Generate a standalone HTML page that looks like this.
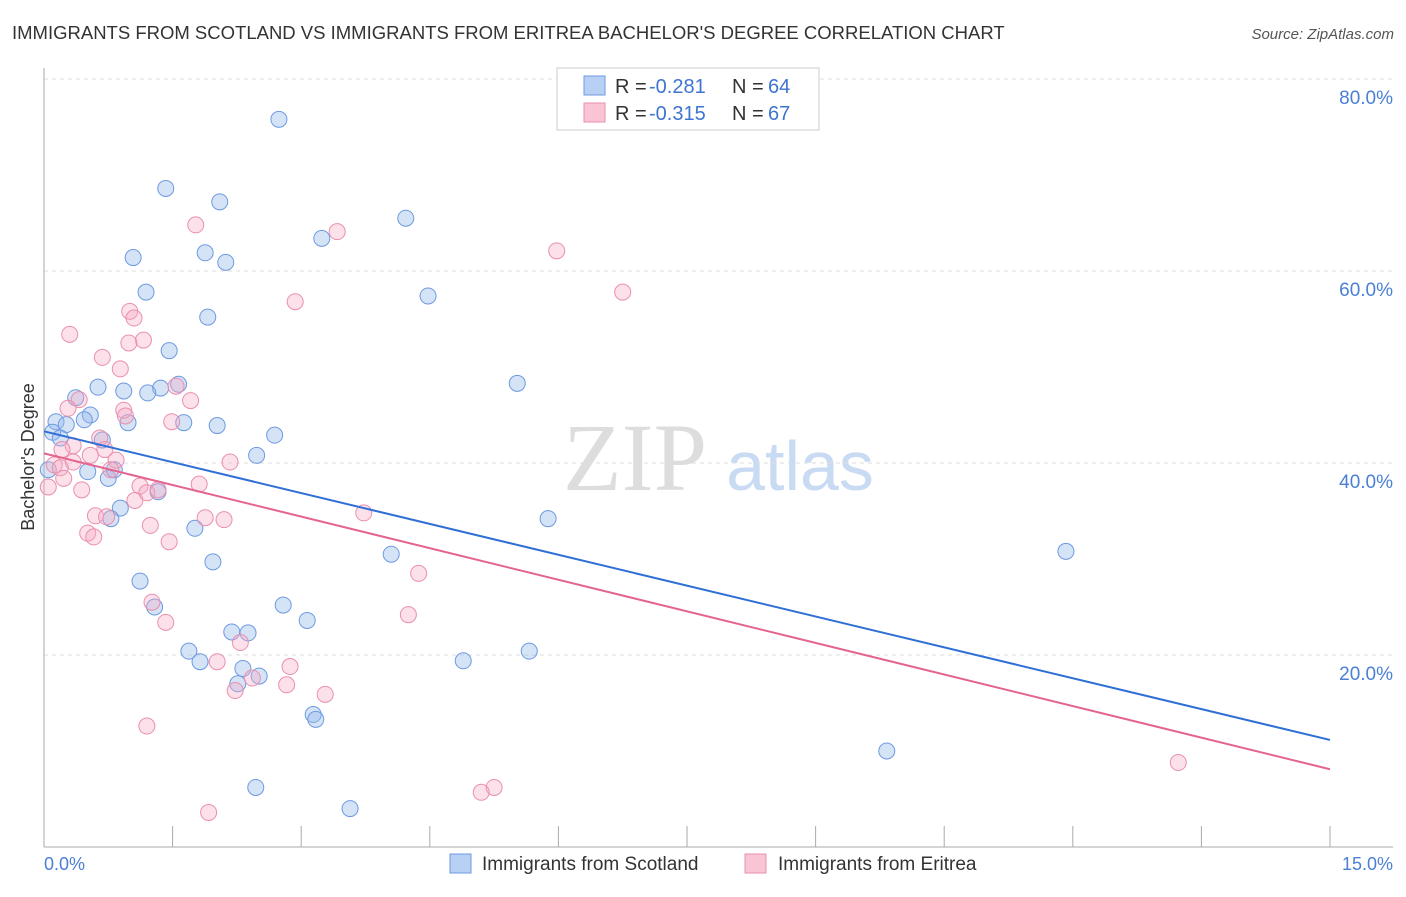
<!DOCTYPE html>
<html><head><meta charset="utf-8"><style>
body{margin:0;background:#fff;font-family:"Liberation Sans",sans-serif;}
</style></head><body>
<svg id="c" width="1406" height="892" xmlns="http://www.w3.org/2000/svg">
<text x="12" y="39" font-size="18.5" fill="#333">IMMIGRANTS FROM SCOTLAND VS IMMIGRANTS FROM ERITREA BACHELOR'S DEGREE CORRELATION CHART</text>
<text x="1394" y="39" font-size="15" fill="#555" font-style="italic" text-anchor="end">Source: ZipAtlas.com</text>
<g>
<text x="635" y="490" font-size="96" fill="#ddd" font-family="Liberation Serif,serif" text-anchor="middle">ZIP</text>
<text x="800" y="490" font-size="70" fill="#c9daf3" text-anchor="middle">atlas</text></g>
<g id="grid"></g><g id="axes"></g><g id="pts"></g><g id="lines"></g>
<text transform="translate(34,457) rotate(-90)" font-size="18" fill="#333" text-anchor="middle">Bachelor's Degree</text>
<text x="44" y="870" font-size="18" fill="#4a7fd4">0.0%</text>
<text x="1393" y="870" font-size="18" fill="#4a7fd4" text-anchor="end">15.0%</text>
<g>
<rect x="557" y="68" width="262" height="62" fill="#fff" stroke="#ccc"/>
<rect x="584" y="76" width="21" height="19" fill="#b8d0f4" stroke="#6d9ae0"/>
<rect x="584" y="103" width="21" height="19" fill="#f9c4d4" stroke="#ea8fad"/>
<text x="615" y="93" font-size="20" fill="#333">R =</text>
<text x="649" y="93" font-size="20" fill="#3d75d0">-0.281</text>
<text x="732" y="93" font-size="20" fill="#333">N =</text>
<text x="768" y="93" font-size="20" fill="#3d75d0">64</text>
<text x="615" y="120" font-size="20" fill="#333">R =</text>
<text x="649" y="120" font-size="20" fill="#3d75d0">-0.315</text>
<text x="732" y="120" font-size="20" fill="#333">N =</text>
<text x="768" y="120" font-size="20" fill="#3d75d0">67</text></g>
<g>
<rect x="450" y="854" width="21" height="19" fill="#b8d0f4" stroke="#6d9ae0"/>
<text x="482" y="870" font-size="19" fill="#333">Immigrants from Scotland</text>
<rect x="745" y="854" width="21" height="19" fill="#f9c4d4" stroke="#ea8fad"/>
<text x="778" y="870" font-size="19" fill="#333">Immigrants from Eritrea</text></g>
</svg>
<script>
const yTicks=[20,40,60,80];
const yTickLabels=["20.0%","40.0%","60.0%","80.0%"];
const blueX=[2.74,1.42,2.05,4.22,3.24,1.04,1.88,2.12,1.19,4.48,1.91,1.46,5.52,0.63,0.93,1.36,1.57,1.21,0.37,0.54,0.47,0.14,0.26,0.98,1.63,2.02,2.69,0.10,0.19,0.68,2.48,0.51,0.75,0.82,1.33,0.89,0.78,5.88,1.76,4.05,11.92,1.97,1.12,1.29,2.79,3.07,2.19,2.38,1.69,4.89,5.66,1.82,2.32,2.51,2.26,3.14,3.17,9.83,2.47,3.57,0.05];
const blueY=[75.8,68.6,67.2,65.5,63.4,61.4,61.9,60.9,57.8,57.4,55.2,51.7,48.3,47.9,47.5,47.8,48.2,47.3,46.8,45.0,44.5,44.3,44.0,44.2,44.2,43.9,42.9,43.2,42.6,42.4,40.8,39.1,38.4,39.3,37.0,35.3,34.2,34.2,33.2,30.5,30.8,29.7,27.7,25.0,25.2,23.6,22.4,22.3,20.4,19.4,20.4,19.3,18.6,17.8,17.0,13.8,13.3,10.0,6.2,4.0,39.3];
const pinkX=[3.42,1.77,5.98,6.75,2.93,0.30,1.00,1.05,1.16,0.99,0.68,0.89,1.54,1.71,0.41,0.28,0.93,0.95,1.49,0.65,0.34,0.21,0.71,0.54,0.84,2.17,0.34,0.12,0.19,0.78,0.23,1.12,1.81,0.44,1.20,1.33,1.06,0.05,0.60,0.73,1.88,2.10,3.73,1.24,0.51,0.58,1.46,4.37,1.26,1.42,4.25,2.29,2.02,2.87,2.83,2.23,2.43,3.28,1.20,13.23,5.25,5.10,1.92];
const pinkY=[64.1,64.8,62.1,57.8,56.8,53.4,55.8,55.1,52.8,52.5,51.0,49.8,48.0,46.5,46.6,45.7,45.5,44.9,44.3,42.6,41.8,41.4,41.4,40.8,40.3,40.1,40.1,39.8,39.5,39.3,38.4,37.6,37.8,37.2,36.9,37.2,36.1,37.5,34.5,34.4,34.3,34.1,34.8,33.5,32.7,32.3,31.8,28.5,25.5,23.4,24.2,21.3,19.3,18.8,16.9,16.3,17.6,15.9,12.6,8.8,6.2,5.7,3.6];
const trendBlue=[43.3,11.15];
const trendPink=[41.0,8.1];
const NS="http://www.w3.org/2000/svg";
const X0=44,X1=1330,Y0=847,Y80=79;
const sx=v=>X0+(v/15)*(X1-X0);
const sy=v=>Y0-(v/80)*(Y0-Y80);
function mk(t,a,p){const e=document.createElementNS(NS,t);for(const k in a)e.setAttribute(k,a[k]);p.appendChild(e);return e;}
const grid=document.getElementById('grid'),axes=document.getElementById('axes'),pts=document.getElementById('pts'),lines=document.getElementById('lines');
yTicks.forEach((t,i)=>{
 const l=mk('line',{x1:44,x2:1393,y1:sy(t),y2:sy(t),stroke:'#ddd','stroke-dasharray':'4,4'},grid);
 
 
 const tx=mk('text',{x:1393,y:sy(t)+25,'font-size':19,fill:'#4a7fd4','text-anchor':'end'},grid);
 tx.textContent=yTickLabels[i];
 
 
});
const ya=mk('line',{x1:44,x2:44,y1:68,y2:847,stroke:'#aaa'},axes);


const xa=mk('line',{x1:44,x2:1393,y1:847,y2:847,stroke:'#aaa'},axes);


for(let i=0;i<=10;i++){
 const tk=mk('line',{x1:sx(i*1.5),x2:sx(i*1.5),y1:826,y2:847,stroke:'#aaa'},axes);
 
 
}
blueX.forEach((v,i)=>{
 const c=mk('circle',{cx:sx(v),cy:sy(blueY[i]),r:8,fill:'rgba(150,185,235,0.4)',stroke:'#6d9ae0','stroke-width':1},pts);
 
 
});
pinkX.forEach((v,i)=>{
 const c=mk('circle',{cx:sx(v),cy:sy(pinkY[i]),r:8,fill:'rgba(245,170,195,0.35)',stroke:'#ea8fad','stroke-width':1},pts);
 
 
});
const lb=mk('line',{x1:sx(0),y1:sy(trendBlue[0]),x2:sx(15),y2:sy(trendBlue[1]),stroke:'#2f6fd6','stroke-width':2},lines);


const lp=mk('line',{x1:sx(0),y1:sy(trendPink[0]),x2:sx(15),y2:sy(trendPink[1]),stroke:'#e4648f','stroke-width':2},lines);


</script>
</body></html>
